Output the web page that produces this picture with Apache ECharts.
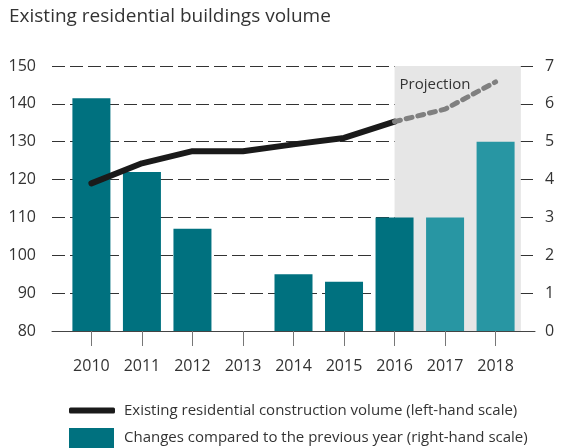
<!DOCTYPE html>
<html>
<head>
<meta charset="utf-8">
<script src="https://cdn.jsdelivr.net/npm/echarts@6/dist/echarts.min.js"></script>
<style>
  html, body { margin: 0; padding: 0; background: #fff; }
  #main { width: 561px; height: 448px; }
</style>
</head>
<body>
<div id="main"></div>
<script>
// 数据
var years = ['2010', '2011', '2012', '2013', '2014', '2015', '2016', '2017', '2018'];
var changeValues = [6.15, 4.2, 2.7, 0, 1.5, 1.3, 3.0, 3.0, 5.0];   // right-hand scale
var volumeActual = [119.0, 124.3, 127.5, 127.5, 129.3, 131.0, 135.3]; // 2010-2016
var volumeProjection = [135.3, 138.6, 145.8];                       // 2016-2018
var projectionStart = 6;   // index of 2016
var leftTicks = [80, 90, 100, 110, 120, 130, 140, 150];
var rightTicks = [0, 1, 2, 3, 4, 5, 6, 7];

var font = '"Open Sans", "Noto Sans", sans-serif';
var darkTeal = '#00717f';
var lightTeal = '#2896a3';

var chart = echarts.init(document.getElementById('main'), null, { renderer: 'canvas' });

var idx = years.map(function (y, i) { return i; });

var barData = changeValues.map(function (v, i) {
  var item = { value: [i, v] };
  if (i > projectionStart) {
    item.itemStyle = { color: lightTeal };
  }
  return item;
});
var solidData = volumeActual.map(function (v, i) { return [i, v]; });
var dashData = volumeProjection.map(function (v, i) { return [projectionStart + i, v]; });

var option = {
  animation: false,
  textStyle: { fontFamily: font },
  title: {
    text: 'Existing residential buildings volume',
    left: 4,
    top: 2,
    textStyle: { fontFamily: font, fontSize: 19, fontWeight: 'normal', color: '#333' }
  },
  grid: { left: 52, right: 26, top: 66, bottom: 117 },
  legend: [
    {
      data: [{ name: 'Existing residential construction volume (left-hand scale)', icon: 'roundRect' }],
      left: 69, top: 403, padding: 0,
      itemWidth: 46, itemHeight: 6, itemGap: 0,
      textStyle: { fontFamily: font, fontSize: 15, color: '#333', padding: [0, 0, 0, 4] },
      selectedMode: false
    },
    {
      data: [{ name: 'Changes compared to the previous year (right-hand scale)', icon: 'rect' }],
      left: 69, top: 428, padding: 0,
      itemWidth: 45, itemHeight: 20, itemGap: 0,
      textStyle: { fontFamily: font, fontSize: 15, color: '#333', padding: [0, 0, 0, 5] },
      selectedMode: false
    }
  ],
  xAxis: {
    type: 'value',
    min: -0.78,
    max: 8.78,
    axisLine: { show: true, lineStyle: { color: '#444', width: 1 } },
    axisTick: {
      show: true, length: 15, customValues: idx,
      lineStyle: { color: '#777', width: 1 }
    },
    axisLabel: {
      customValues: idx,
      margin: 27,
      fontFamily: font, fontSize: 16, color: '#333',
      formatter: function (v) { return years[Math.round(v)]; }
    },
    splitLine: { show: false }
  },
  yAxis: [
    {
      type: 'value',
      min: leftTicks[0],
      max: leftTicks[leftTicks.length - 1],
      interval: 10,
      axisLine: { show: false },
      axisTick: { show: false },
      axisLabel: { margin: 16, fontFamily: font, fontSize: 16, color: '#333' },
      splitLine: { show: true, lineStyle: { color: '#333', width: 1, type: [13, 5] } }
    },
    {
      type: 'value',
      min: rightTicks[0],
      max: rightTicks[rightTicks.length - 1],
      interval: 1,
      position: 'right',
      axisLine: { show: false },
      axisTick: { show: false },
      axisLabel: { margin: 10, fontFamily: font, fontSize: 16, color: '#333' },
      splitLine: { show: false }
    }
  ],
  series: [
    {
      // shaded projection area, kept under the grid lines
      name: 'projectionArea',
      type: 'line',
      data: [],
      z: -1,
      silent: true,
      markArea: {
        silent: true,
        itemStyle: { color: '#e6e6e6' },
        label: {
          show: true,
          position: [5, 11],
          fontFamily: font, fontSize: 15, color: '#333',
          formatter: 'Projection'
        },
        data: [[{ xAxis: projectionStart, yAxis: leftTicks[leftTicks.length - 1] }, { xAxis: 8.5, yAxis: leftTicks[0] }]]
      }
    },
    {
      name: 'Changes compared to the previous year (right-hand scale)',
      type: 'bar',
      yAxisIndex: 1,
      barWidth: 38,
      itemStyle: { color: darkTeal },
      data: barData
    },
    {
      name: 'Existing residential construction volume (left-hand scale)',
      type: 'line',
      yAxisIndex: 0,
      symbol: 'none',
      z: 4,
      itemStyle: { color: '#1a1a1a' },
      lineStyle: { color: '#1a1a1a', width: 6, cap: 'round', join: 'round' },
      data: solidData
    },
    {
      name: 'Projected volume',
      type: 'line',
      yAxisIndex: 0,
      symbol: 'none',
      z: 5,
      lineStyle: { color: '#808080', width: 5, type: [6, 6], cap: 'round', join: 'round' },
      data: dashData
    }
  ]
};

chart.setOption(option);
</script>
</body>
</html>
